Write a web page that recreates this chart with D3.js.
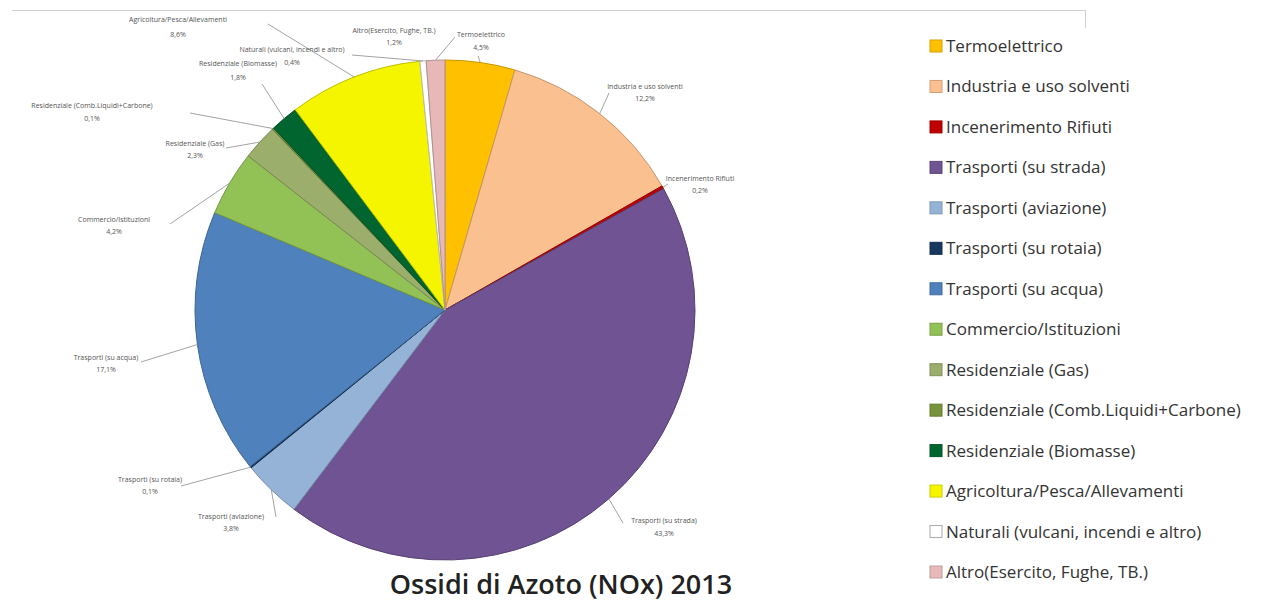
<!DOCTYPE html>
<html lang="it">
<head>
  <meta charset="UTF-8">
  <title>Ossidi di Azoto (NOx) 2013</title>
  <script src="https://d3js.org/d3.v7.min.js"></script>
  <style>
    body { margin: 0; background: #fff; }
    svg { display: block; }
  </style>
</head>
<body>
<svg id="chart" width="1266" height="608"></svg>
<script>
  // sectors, in pie order (clockwise from 12 o'clock)
  const categories = [
    "Termoelettrico",
    "Industria e uso solventi",
    "Incenerimento Rifiuti",
    "Trasporti (su strada)",
    "Trasporti (aviazione)",
    "Trasporti (su rotaia)",
    "Trasporti (su acqua)",
    "Commercio/Istituzioni",
    "Residenziale (Gas)",
    "Residenziale (Comb.Liquidi+Carbone)",
    "Residenziale (Biomasse)",
    "Agricoltura/Pesca/Allevamenti",
    "Naturali (vulcani, incendi e altro)",
    "Altro(Esercito, Fughe, TB.)"
  ];
  // share of NOx emissions, %
  const values = [4.5, 12.2, 0.2, 43.3, 3.8, 0.1, 17.1, 4.2, 2.3, 0.1, 1.8, 8.6, 0.4, 1.2];
  const colors = ["#ffc000", "#fac090", "#c00000", "#6f5392", "#95b3d7", "#17375e", "#4f81bd",
                  "#92c255", "#9bae6c", "#77933c", "#00652e", "#f5f500", "#ffffff", "#e6b9b8"];

  // where Excel put each data label: [text x, name y, pct y, leader start x, leader start y]
  const labelLayout = [
    [481, 37, 50, 478, 56],
    [645, 89, 101, 609, 93],
    [700, 181, 193, 668, 184],
    [664, 523, 536, 623, 523],
    [231, 519, 531, 276, 517],
    [150, 482, 494, 181, 486],
    [106, 360, 372, 141, 362],
    [114, 222, 234, 170, 224],
    [195, 146, 158, 226, 148],
    [92, 108, 121, 190, 113],
    [238, 66, 80, 262, 84],
    [178, 22, 37, 268, 24],
    [292, 52, 65, 352, 55],
    [394, 33, 45, 455, 37]
  ];

  const svg = d3.select("#chart");
  const cx = 445, cy = 310, r = 250;

  // thin frame line at top
  svg.append("line").attr("x1", 12).attr("x2", 1085).attr("y1", 10.5).attr("y2", 10.5)
    .attr("stroke", "#d0d0d0");
  svg.append("line").attr("x1", 1085.5).attr("x2", 1085.5).attr("y1", 10).attr("y2", 28)
    .attr("stroke", "#d0d0d0");

  const data = categories.map((c, i) => ({ name: c, value: values[i], color: colors[i] }));
  const pie = d3.pie().sort(null).value(d => d.value);
  const arc = d3.arc().innerRadius(0).outerRadius(r);
  const arcs = pie(data);

  const g = svg.append("g").attr("transform", `translate(${cx},${cy})`);
  g.selectAll("path")
    .data(arcs)
    .join("path")
    .attr("d", arc)
    .attr("fill", d => d.data.color)
    .attr("stroke", d => d.data.color === "#ffffff" ? "#bbb" : d3.color(d.data.color).darker(0.7))
    .attr("stroke-width", 1)
    .attr("stroke-linejoin", "round");

  // data labels + leader lines
  const fmt = v => d3.format(".1f")(v).replace(".", ",") + "%";
  const lab = svg.append("g");
  arcs.forEach((a, i) => {
    const [tx, ny, py, lx, ly] = labelLayout[i];
    const mid = (a.startAngle + a.endAngle) / 2;
    const ex = cx + Math.sin(mid) * r, ey = cy - Math.cos(mid) * r;
    lab.append("line")
      .attr("x1", lx).attr("y1", ly).attr("x2", ex).attr("y2", ey)
      .attr("stroke", "#8c8c8c").attr("stroke-width", 0.8);
    lab.append("text").attr("x", tx).attr("y", ny)
      .attr("text-anchor", "middle")
      .attr("font-family", "Open Sans, sans-serif").attr("font-size", 7)
      .attr("fill", "#555").text(a.data.name);
    lab.append("text").attr("x", tx).attr("y", py)
      .attr("text-anchor", "middle")
      .attr("font-family", "Open Sans, sans-serif").attr("font-size", 7)
      .attr("fill", "#555").text(fmt(a.data.value));
  });

  // title
  svg.append("text")
    .attr("x", 561).attr("y", 594)
    .attr("text-anchor", "middle")
    .attr("font-family", "Open Sans, sans-serif")
    .attr("font-size", 27)
    .attr("font-weight", 600)
    .attr("fill", "#222")
    .text("Ossidi di Azoto (NOx) 2013");

  // legend
  const ly = d3.scalePoint().domain(categories).range([46, 572]);
  const leg = svg.append("g");
  leg.selectAll("rect")
    .data(data)
    .join("rect")
    .attr("x", 930).attr("y", d => ly(d.name) - 6)
    .attr("width", 12).attr("height", 12)
    .attr("fill", d => d.color)
    .attr("stroke", d => d.color === "#ffffff" ? "#aaa" : d3.color(d.color).darker(0.5))
    .attr("stroke-width", 1);
  leg.selectAll("text")
    .data(data)
    .join("text")
    .attr("x", 946).attr("y", d => ly(d.name) + 6)
    .attr("font-family", "Open Sans, sans-serif")
    .attr("font-size", 17)
    .attr("fill", "#333")
    .text(d => d.name);
</script>
</body>
</html>
